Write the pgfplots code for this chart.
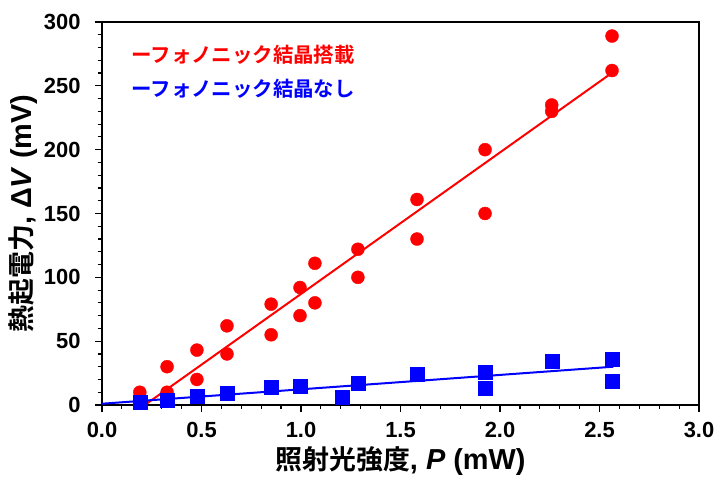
\documentclass[border=0pt]{standalone}
\usepackage{pgfplots}
\pgfplotsset{compat=1.18}
\usetikzlibrary{calc}
\usepackage{fontspec}
\setmainfont{Liberation Sans}
\newfontfamily\jp{Noto Sans CJK JP}[BoldFont={Noto Sans CJK JP Bold}]
\definecolor{myred}{RGB}{255,0,0}
\definecolor{myblue}{RGB}{0,0,255}
\begin{document}
\begin{tikzpicture}
\begin{axis}[
  scale only axis,
  width=597bp, height=383bp,
  xmin=0, xmax=3, ymin=0, ymax=300,
  xtick={0,0.5,...,3.0}, minor x tick num=4,
  ytick={0,50,...,300}, minor y tick num=4,
  tick align=outside,
  major tick length=7bp, minor tick length=4bp,
  tick style={black, line width=1.2bp},
  axis line style={line width=1.6bp},
  xtick pos=bottom, ytick pos=left,
  /pgf/number format/assume math mode=true,
  x tick label style={font=\fontsize{22}{22}\selectfont\bfseries, yshift=-7bp, /pgf/number format/.cd, fixed, fixed zerofill, precision=1},
  y tick label style={font=\fontsize{22}{22}\selectfont\bfseries, xshift=-11bp},
  xlabel={{\fontsize{27}{27}\selectfont\jp\bfseries 照射光強度}\textbf{, \textit{P} (mW)}},
  ylabel={{\fontsize{27}{27}\selectfont\jp\bfseries 熱起電力}\textbf{, Δ\textit{V} (mV)}},
  xlabel style={font=\fontsize{29}{29}\selectfont, at={(axis description cs:0.5,0)}, anchor=center, yshift=-56bp},
  ylabel style={font=\fontsize{29}{29}\selectfont, at={(axis description cs:0,0.5)}, anchor=center, yshift=79bp},
  clip=false,
]
\addplot[only marks, mark=*, mark size=6.5bp, color=myred] coordinates {
(0.19,10) (0.327,30) (0.327,10) (0.477,43) (0.477,20) (0.628,62) (0.628,40)
(0.85,79) (0.85,55) (0.995,92) (0.995,70) (1.07,111) (1.07,80)
(1.286,122) (1.286,100) (1.583,161) (1.583,130) (1.925,200) (1.925,150)
(2.26,235) (2.26,230) (2.563,289) (2.563,262)
};
\addplot[only marks, mark=square*, mark size=7bp, color=myblue] coordinates {
(0.19,2) (0.327,4) (0.477,7) (0.628,9) (0.85,14) (0.995,15) (1.206,6)
(1.286,17) (1.583,24) (1.925,26) (1.925,13) (2.26,34) (2.563,36) (2.563,19)
};
\addplot[myred, line width=2bp] coordinates {(0.215,0) (2.57,261)};
\addplot[myblue, line width=2bp] coordinates {(0,1) (2.57,30)};
\node[anchor=west, text=myred, font=\fontsize{20.5}{20.5}\selectfont\jp\bfseries] at (axis cs:0.13,274) {ーフォノニック結晶搭載};
\node[anchor=west, text=myblue, font=\fontsize{20.5}{20.5}\selectfont\jp\bfseries] at (axis cs:0.13,248) {ーフォノニック結晶なし};
\end{axis}
\pgfresetboundingbox
\path[use as bounding box] ($(current axis.south west)+(-102bp,-74bp)$) rectangle ($(current axis.north east)+(16bp,22bp)$);
\end{tikzpicture}
\end{document}
